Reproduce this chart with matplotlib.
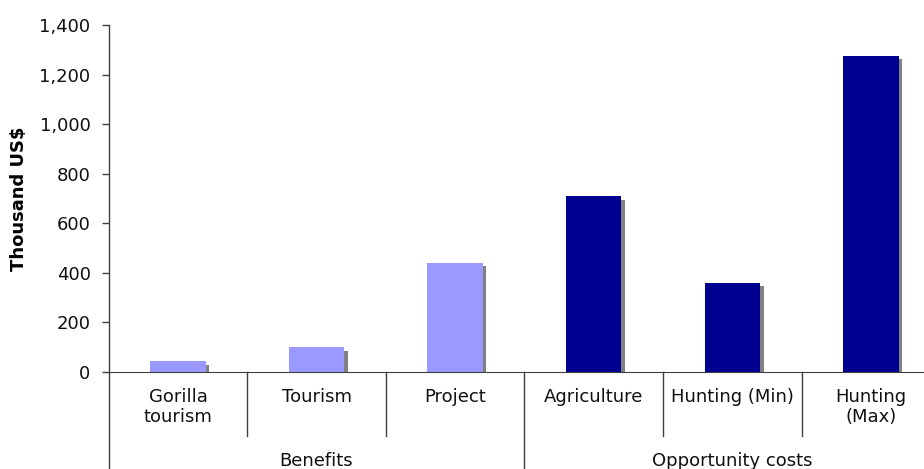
import numpy as np
import matplotlib
matplotlib.use("Agg")
import matplotlib.pyplot as plt
from matplotlib.ticker import FuncFormatter
from matplotlib.transforms import ScaledTranslation, blended_transform_factory

# values in thousand US$
categories = ["Gorilla\ntourism", "Tourism", "Project", "Agriculture", "Hunting (Min)", "Hunting\n(Max)"]
values = [44, 100, 440, 710, 360, 1275]
groups = ["Benefits", "Opportunity costs"]
group_sizes = [3, 3]

light = "#9999FF"
dark = "#000090"
colors = [light] * 3 + [dark] * 3

plt.rcParams['font.family'] = ['DejaVu Sans']
fs = 13

fig = plt.figure(figsize=(9.24, 4.69), dpi=100)
ax = fig.add_axes([0.1176, 0.2068, 0.90, 0.74])

xpos = np.arange(len(categories))

# drop shadow, shifted a few pixels right/down
shadow = ax.bar(xpos, values, width=0.4, color="#808080", zorder=1)
off = ScaledTranslation(3.5 / 100, -3.5 / 100, fig.dpi_scale_trans)
for r in shadow:
    r.set_transform(ax.transData + off)
ax.bar(xpos, values, width=0.4, color=colors, zorder=2)

ax.set_xlim(-0.5, len(categories) - 0.5)
ax.set_ylim(0, 1400)
ax.set_yticks(np.arange(0, 1401, 200))
ax.yaxis.set_major_formatter(FuncFormatter(lambda v, p: "{:,.0f}".format(v)))
ax.tick_params(axis="y", length=5, width=1, color="#404040", pad=8, labelsize=fs, labelcolor="#111111")
ax.set_xticks([])

for s in ["top", "right", "left"]:
    ax.spines[s].set_visible(False)
ax.spines["bottom"].set_color("#404040")

ax.set_ylabel("Thousand US$", fontsize=fs, fontweight="bold")
ax.yaxis.set_label_coords(-0.097, 0.5)

trans = blended_transform_factory(ax.transData, ax.transAxes)

# left axis line runs down through the label area
ax.plot([-0.5, -0.5], [-0.3, 1.0], transform=trans, color="#404040", lw=1, clip_on=False)

# separators between categories and between groups
bounds = np.cumsum(group_sizes)[:-1]
for i in range(1, len(categories) + 1):
    x = i - 0.5
    if i in bounds or i == len(categories):
        ax.plot([x, x], [0, -0.3], transform=trans, color="#404040", lw=1, clip_on=False)
    else:
        ax.plot([x, x], [0, -0.185], transform=trans, color="#404040", lw=1, clip_on=False)

for x, lab in zip(xpos, categories):
    ax.text(x, -0.045, lab, transform=trans, ha="center", va="top", fontsize=fs,
            color="#111111", linespacing=1.15)

start = 0
for g, n in zip(groups, group_sizes):
    center = start + (n - 1) / 2
    ax.text(center, -0.23, g, transform=trans, ha="center", va="top", fontsize=fs, color="#111111")
    start += n

fig.savefig("out.png", dpi=100)
